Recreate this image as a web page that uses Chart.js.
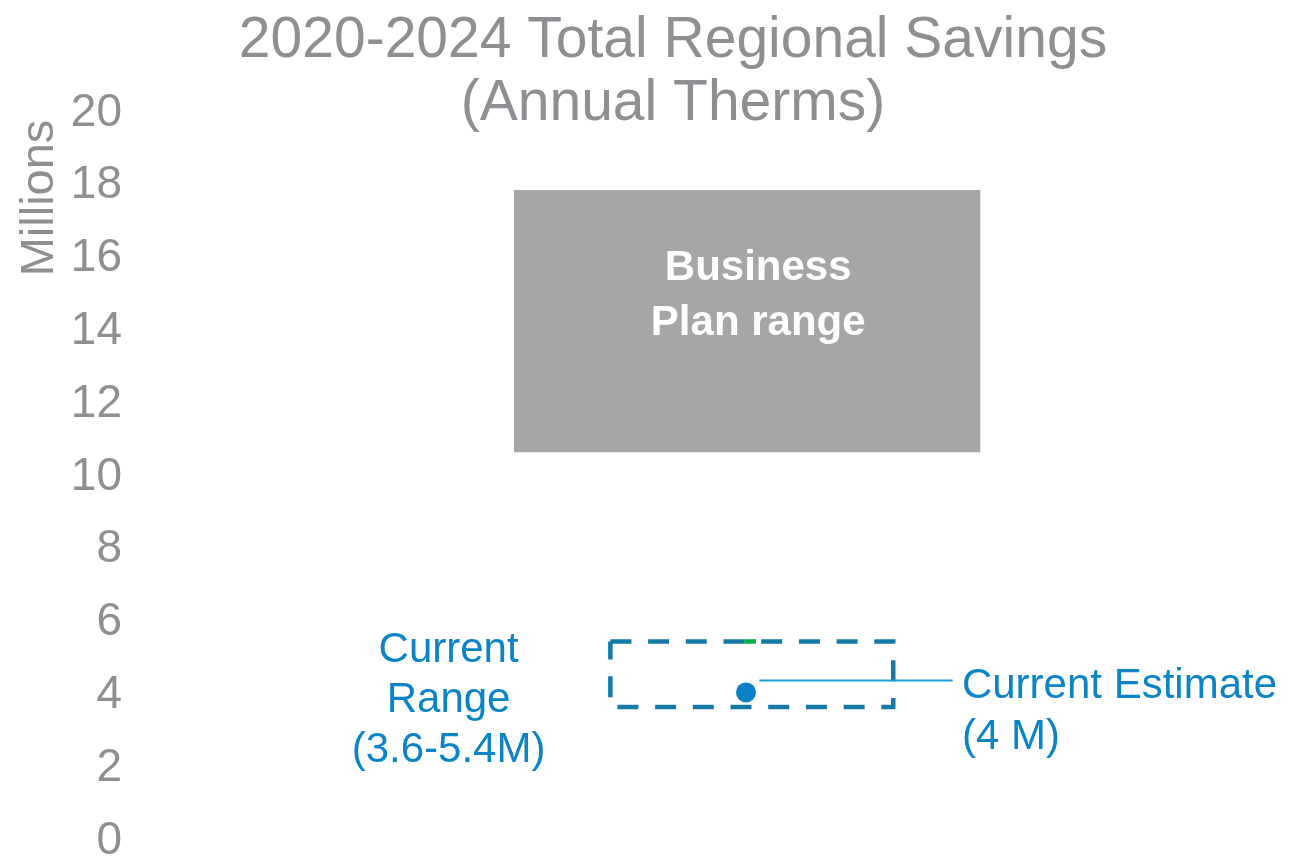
<!DOCTYPE html>
<html>
<head>
<meta charset="utf-8">
<title>2020-2024 Total Regional Savings</title>
<script src="https://cdn.jsdelivr.net/npm/chart.js@4.4.1/dist/chart.umd.min.js"></script>
<style>
  html, body { margin: 0; padding: 0; background: #fff; }
  .chart-box { width: 1289px; height: 856px; position: relative; }
</style>
</head>
<body>
<div class="chart-box"><canvas id="savings"></canvas></div>
<script>
// values are millions of annual therms
const yTicks = [0, 2, 4, 6, 8, 10, 12, 14, 16, 18, 20];
const planRange = [10.6, 17.8];
const currentRange = [3.6, 5.4];
const currentEstimate = [4];
const chartTitle = ['2020-2024 Total Regional Savings', '(Annual Therms)'];
const planLabel = ['Business', 'Plan range'];

const FONT = '"Liberation Sans", Arial, sans-serif';
const GRAY = '#8e8f92';
const BLUE = '#0b84c6';

// horizontal placement on a hidden 0..100 axis
const pos = {
  plan: [33.4, 73.5],
  box: [41.7, 66.0],
  point: 53.35,
  leader: [54.5, 71.1],
  green: [53.2, 54.2],
  rangeText: 27.8,
  estText: 71.9,
  planText: 54.4
};
const leaderY = currentEstimate[0] + 0.33;

const boxPath = [
  { x: pos.box[0], y: currentRange[1] },
  { x: pos.box[1], y: currentRange[1] },
  { x: pos.box[1], y: currentRange[0] },
  { x: pos.box[0], y: currentRange[0] },
  { x: pos.box[0], y: currentRange[1] }
];

// title, axis name and text callouts
const annotations = {
  id: 'annotations',
  afterDatasetsDraw(chart) {
    const { ctx, scales: { x, y } } = chart;
    ctx.save();
    ctx.textBaseline = 'middle';

    ctx.fillStyle = GRAY;
    ctx.textAlign = 'center';
    ctx.font = '57px ' + FONT;
    chartTitle.forEach((t, i) => ctx.fillText(t, 673, 41 + i * 63));

    // rotated y axis name, sits near the top of the axis
    ctx.save();
    ctx.translate(40, 198);
    ctx.rotate(-Math.PI / 2);
    ctx.font = '47px ' + FONT;
    ctx.fillText('Millions', 0, 0);
    ctx.restore();

    ctx.fillStyle = '#ffffff';
    ctx.font = 'bold 42px ' + FONT;
    const planTop = y.getPixelForValue(planRange[1]);
    planLabel.forEach((t, i) => ctx.fillText(t, x.getPixelForValue(pos.planText), planTop + 78 + i * 55));

    ctx.fillStyle = BLUE;
    ctx.font = '42px ' + FONT;
    const rangeLines = ['Current', 'Range', '(' + currentRange[0] + '-' + currentRange[1] + 'M)'];
    const rangeTop = y.getPixelForValue(currentRange[1]);
    rangeLines.forEach((t, i) => ctx.fillText(t, x.getPixelForValue(pos.rangeText), rangeTop + 9 + i * 50));

    ctx.textAlign = 'left';
    const estLines = ['Current Estimate', '(' + currentEstimate[0] + ' M)'];
    const ly = y.getPixelForValue(leaderY);
    estLines.forEach((t, i) => ctx.fillText(t, x.getPixelForValue(pos.estText), ly + 6 + i * 51));
    ctx.restore();
  }
};

new Chart(document.getElementById('savings'), {
  type: 'line',
  data: {
    datasets: [
      {
        label: 'Current Estimate',
        data: [{ x: pos.point, y: currentEstimate[0] }],
        showLine: false,
        pointRadius: 10,
        pointBackgroundColor: '#0a7fc4',
        pointBorderWidth: 0,
        order: 1
      },
      {
        label: 'leader',
        data: [{ x: pos.leader[0], y: leaderY }, { x: pos.leader[1], y: leaderY }],
        borderColor: '#1ba1dc',
        borderWidth: 2,
        pointRadius: 0,
        order: 2
      },
      {
        label: 'green mark',
        data: [{ x: pos.green[0], y: currentRange[1] }, { x: pos.green[1], y: currentRange[1] }],
        borderColor: '#00b050',
        borderWidth: 4.5,
        borderCapStyle: 'butt',
        pointRadius: 0,
        order: 3
      },
      {
        label: 'Current Range',
        data: boxPath,
        borderColor: '#1479a6',
        borderWidth: 4.5,
        borderDash: [21, 16.7],
        borderCapStyle: 'butt',
        borderJoinStyle: 'miter',
        pointRadius: 0,
        order: 4
      },
      {
        label: 'plan high',
        data: [{ x: pos.plan[0], y: planRange[1] }, { x: pos.plan[1], y: planRange[1] }],
        borderWidth: 0,
        pointRadius: 0,
        fill: false,
        order: 5
      },
      {
        label: 'Business Plan range',
        data: [{ x: pos.plan[0], y: planRange[0] }, { x: pos.plan[1], y: planRange[0] }],
        borderWidth: 0,
        pointRadius: 0,
        backgroundColor: '#a6a6a6',
        fill: '-1',
        order: 6
      }
    ]
  },
  options: {
    responsive: true,
    maintainAspectRatio: false,
    animation: false,
    events: [],
    layout: { autoPadding: false, padding: { top: 110, left: 0, right: 0, bottom: 0 } },
    scales: {
      x: { type: 'linear', display: false, min: 0, max: 100 },
      y: {
        type: 'linear',
        min: 0,
        max: 20,
        afterBuildTicks: s => { s.ticks = yTicks.map(v => ({ value: v })); },
        afterFit: s => { s.width = 125; },
        grid: { display: false, drawTicks: false },
        border: { display: false },
        ticks: {
          color: GRAY,
          padding: 3,
          labelOffset: 3,
          font: { family: FONT, size: 46, lineHeight: 0.652 }
        }
      }
    },
    plugins: {
      legend: { display: false },
      tooltip: { enabled: false }
    }
  },
  plugins: [annotations]
});
</script>
</body>
</html>
